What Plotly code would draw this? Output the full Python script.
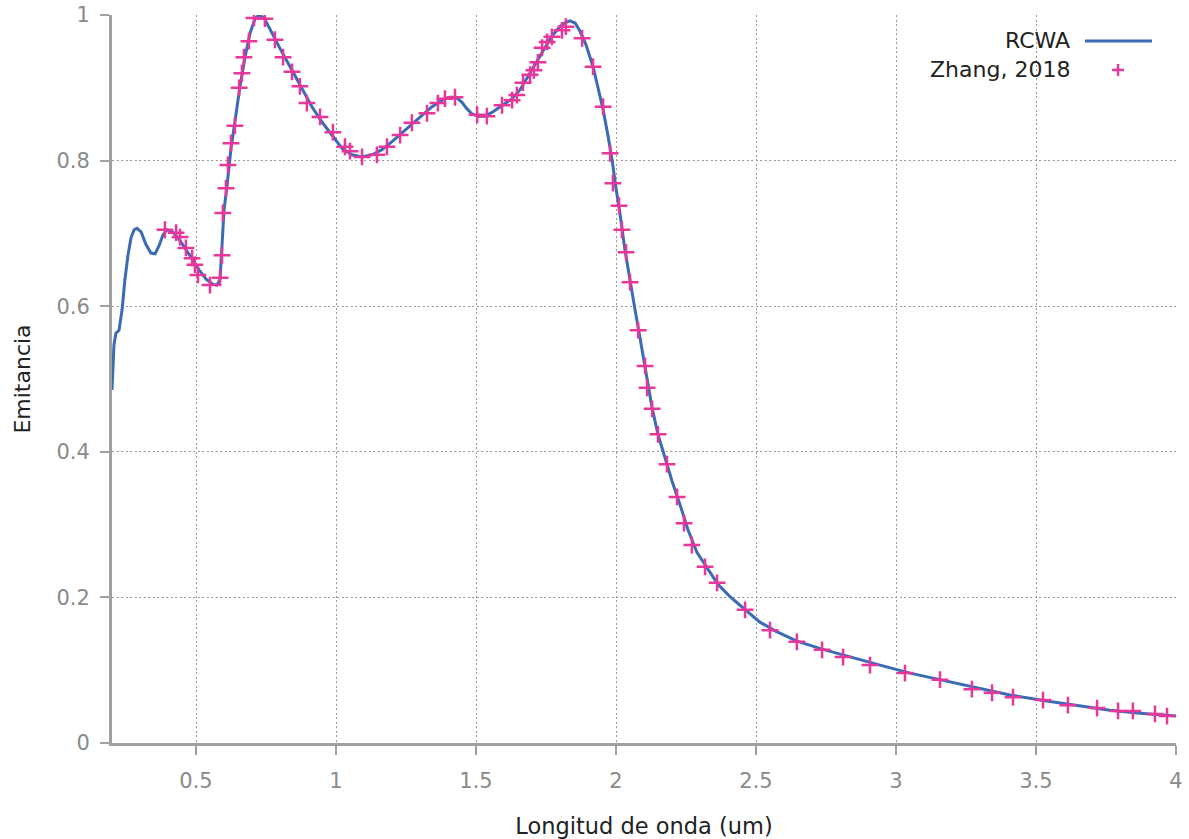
import plotly.graph_objects as go

# RCWA simulated emittance spectrum (wavelength in um)
rcwa_wl = [0.200, 0.207, 0.214, 0.225, 0.236, 0.246, 0.257, 0.268, 0.279, 0.289,
           0.304, 0.321, 0.339, 0.354, 0.368, 0.382, 0.396, 0.414, 0.436, 0.461,
           0.486, 0.511, 0.536, 0.561, 0.575, 0.586, 0.593, 0.600, 0.611, 0.625,
           0.639, 0.657, 0.675, 0.693, 0.711, 0.725, 0.743, 0.771, 0.807, 0.843,
           0.879, 0.914, 0.950, 0.986, 1.021, 1.057, 1.093, 1.129, 1.164, 1.200,
           1.236, 1.271, 1.307, 1.343, 1.379, 1.407, 1.429, 1.450, 1.468, 1.486,
           1.507, 1.532, 1.561, 1.593, 1.629, 1.657, 1.686, 1.714, 1.743, 1.771,
           1.800, 1.821, 1.836, 1.854, 1.871, 1.893, 1.918, 1.936, 1.954, 1.971,
           1.986, 2.000, 2.014, 2.032, 2.050, 2.068, 2.086, 2.107, 2.129, 2.150,
           2.175, 2.200, 2.229, 2.257, 2.289, 2.325, 2.364, 2.407, 2.461, 2.514,
           2.568, 2.646, 2.736, 2.836, 2.943, 3.050, 3.157, 3.282, 3.407, 3.532,
           3.657, 3.764, 3.871, 4.000]
rcwa_em = [0.485, 0.547, 0.563, 0.567, 0.595, 0.636, 0.670, 0.694, 0.705, 0.707,
           0.702, 0.685, 0.673, 0.672, 0.683, 0.698, 0.705, 0.703, 0.694, 0.680,
           0.665, 0.650, 0.637, 0.630, 0.629, 0.637, 0.677, 0.732, 0.766, 0.817,
           0.853, 0.902, 0.942, 0.975, 0.995, 1.000, 0.996, 0.975, 0.949, 0.924,
           0.898, 0.874, 0.853, 0.834, 0.817, 0.808, 0.805, 0.808, 0.815, 0.826,
           0.838, 0.850, 0.863, 0.874, 0.883, 0.887, 0.887, 0.880, 0.871, 0.864,
           0.861, 0.861, 0.867, 0.876, 0.885, 0.897, 0.915, 0.934, 0.953, 0.971,
           0.984, 0.990, 0.992, 0.989, 0.978, 0.959, 0.929, 0.900, 0.870, 0.835,
           0.801, 0.762, 0.728, 0.677, 0.633, 0.595, 0.556, 0.510, 0.460, 0.424,
           0.391, 0.360, 0.327, 0.293, 0.262, 0.240, 0.218, 0.201, 0.183, 0.166,
           0.154, 0.140, 0.129, 0.118, 0.107, 0.096, 0.087, 0.076, 0.066, 0.058,
           0.051, 0.045, 0.041, 0.037]

# Reference data points (Zhang, 2018)
zhang_wl = [0.389, 0.429, 0.443, 0.464, 0.486, 0.496, 0.507, 0.550, 0.586, 0.593,
            0.596, 0.607, 0.614, 0.625, 0.639, 0.654, 0.664, 0.671, 0.689, 0.707,
            0.746, 0.782, 0.811, 0.843, 0.871, 0.896, 0.943, 0.989, 1.032, 1.050,
            1.093, 1.146, 1.182, 1.229, 1.271, 1.325, 1.364, 1.389, 1.425, 1.504,
            1.539, 1.593, 1.629, 1.646, 1.668, 1.693, 1.707, 1.721, 1.736, 1.754,
            1.771, 1.807, 1.821, 1.879, 1.918, 1.954, 1.979, 1.989, 2.011, 2.021,
            2.036, 2.050, 2.079, 2.104, 2.111, 2.129, 2.150, 2.182, 2.218, 2.243,
            2.271, 2.318, 2.361, 2.461, 2.550, 2.646, 2.736, 2.811, 2.907, 3.032,
            3.157, 3.271, 3.343, 3.418, 3.525, 3.614, 3.718, 3.793, 3.846, 3.925,
            3.968]
zhang_em = [0.705, 0.701, 0.695, 0.680, 0.666, 0.657, 0.643, 0.629, 0.639, 0.670,
            0.728, 0.762, 0.794, 0.824, 0.848, 0.900, 0.920, 0.942, 0.964, 0.996,
            0.995, 0.966, 0.942, 0.922, 0.902, 0.879, 0.860, 0.839, 0.819, 0.813,
            0.805, 0.808, 0.819, 0.835, 0.852, 0.865, 0.879, 0.885, 0.887, 0.863,
            0.861, 0.876, 0.883, 0.890, 0.907, 0.918, 0.924, 0.935, 0.955, 0.963,
            0.970, 0.979, 0.984, 0.968, 0.929, 0.874, 0.810, 0.769, 0.738, 0.705,
            0.674, 0.633, 0.567, 0.518, 0.488, 0.459, 0.424, 0.383, 0.338, 0.302,
            0.272, 0.242, 0.220, 0.183, 0.155, 0.139, 0.128, 0.118, 0.107, 0.096,
            0.087, 0.074, 0.069, 0.063, 0.059, 0.052, 0.048, 0.044, 0.044, 0.040,
            0.037]

x_ticks = [0.5, 1, 1.5, 2, 2.5, 3, 3.5, 4]
x_ticklabels = ["0.5", "1", "1.5", "2", "2.5", "3", "3.5", "4"]
y_ticks = [0, 0.2, 0.4, 0.6, 0.8, 1]
y_ticklabels = ["0", "0.2", "0.4", "0.6", "0.8", "1"]

BLUE = "#3a6bb4"
PINK = "#e8369a"
AXIS = "#a0a0a0"
FONT = "DejaVu Sans"

fig = go.Figure()
fig.add_trace(go.Scatter(x=rcwa_wl, y=rcwa_em, mode="lines", name="RCWA",
                         line=dict(color=BLUE, width=3), showlegend=False))
fig.add_trace(go.Scatter(x=zhang_wl, y=zhang_em, mode="markers", name="Zhang, 2018",
                         marker=dict(symbol="cross-thin", size=12,
                                     line=dict(color=PINK, width=2.5)),
                         showlegend=False))

grid = dict(showgrid=True, gridcolor="#9a9a9a", gridwidth=1, griddash="2px,2.5px")
common = dict(ticks="outside", ticklen=9, tickwidth=2, tickcolor=AXIS,
              showline=True, linecolor=AXIS, linewidth=3, zeroline=False,
              automargin=False,
              tickfont=dict(family=FONT, size=21, color="#8a8a8a"))

fig.update_xaxes(range=[0.2, 4], tickvals=x_ticks, ticktext=x_ticklabels,
                 ticklabelstandoff=8,
                 title=dict(text="Longitud de onda (um)", standoff=27,
                            font=dict(family=FONT, size=22.5, color="#222222")),
                 **common, **grid)
fig.update_yaxes(range=[0, 1], tickvals=y_ticks, ticktext=y_ticklabels,
                 ticklabelstandoff=6,
                 title=dict(text="Emitancia", standoff=20,
                            font=dict(family=FONT, size=22, color="#222222")),
                 **common, **grid)

# Legend drawn with the key sample to the right of its label
leg_font = dict(family=FONT, size=22, color="#222222")
row1, row2 = 0.9643, 0.9245
fig.add_annotation(xref="paper", yref="paper", x=0.9023, y=row1, text="RCWA",
                   showarrow=False, xanchor="right", yanchor="middle", font=leg_font)
fig.add_annotation(xref="paper", yref="paper", x=0.9023, y=row2, text="Zhang, 2018",
                   showarrow=False, xanchor="right", yanchor="middle", font=leg_font)
fig.add_shape(type="line", xref="paper", yref="paper", x0=0.9145, x1=0.9774,
              y0=row1, y1=row1, line=dict(color=BLUE, width=3))
for dx0, dx1, dy0, dy1 in [(-6, 6, 0, 0), (0, 0, -6, 6)]:
    fig.add_shape(type="line", xref="paper", yref="paper",
                  xsizemode="pixel", ysizemode="pixel",
                  xanchor=0.9455, yanchor=row2,
                  x0=dx0, x1=dx1, y0=dy0, y1=dy1,
                  line=dict(color=PINK, width=2.5))

fig.update_layout(width=1189, height=839, margin=dict(l=112, r=13, t=15, b=96),
                  plot_bgcolor="white", paper_bgcolor="white")

fig.write_html("out.html")
